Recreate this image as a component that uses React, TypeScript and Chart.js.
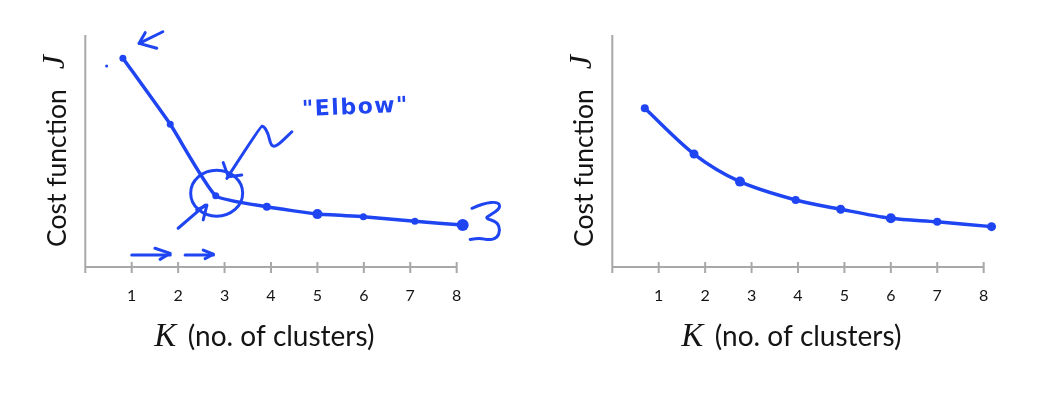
import React, { useEffect, useRef } from "react";
import { Chart, registerables } from "chart.js";

Chart.register(...registerables);

// ---- data ----
const kTicks = [0, 1, 2, 3, 4, 5, 6, 7, 8];
const tickLabels = ["", "1", "2", "3", "4", "5", "6", "7", "8"];

const leftK = [0.81, 1.83, 2.81, 3.91, 5.0, 5.99, 7.1, 8.13];
const leftJ = [9.0, 6.15, 3.07, 2.6, 2.28, 2.17, 1.97, 1.81];

const rightK = [0.7, 1.76, 2.75, 3.95, 4.92, 6.0, 7.0, 8.17];
const rightJ = [6.84, 4.87, 3.68, 2.89, 2.49, 2.1, 1.95, 1.74];

const xTitleSymbol = "K";
const xTitleText = "(no. of clusters)";
const yTitleText = "Cost function";
const yTitleSymbol = "J";
const elbowLabel = "\"Elbow\"";

// hand-drawn annotation strokes on the left chart, in (K, J) data units
const annoStrokes: number[][][] = [
  [[1.67, 10.14], [1.16, 9.64]],
  [[1.29, 10.1], [1.16, 9.64], [1.54, 9.43]],
  [[3.05, 3.82], [3.77, 6.05], [3.84, 6.08], [3.94, 5.76], [4.0, 5.22], [4.12, 5.19], [4.45, 5.83]],
  [[2.97, 4.5], [3.08, 3.89], [3.37, 3.97]],
  [[2.0, 1.67], [2.58, 2.67]],
  [[2.4, 2.46], [2.62, 2.67], [2.54, 2.03]],
  [[1.0, 0.52], [1.83, 0.52]],
  [[1.5, 0.81], [1.83, 0.59], [1.61, 0.33]],
  [[2.15, 0.52], [2.76, 0.52]],
  [[2.54, 0.73], [2.76, 0.55], [2.58, 0.36]],
  [[8.33, 2.53], [8.58, 2.75], [8.9, 2.81], [8.94, 2.53], [8.72, 2.24], [8.61, 2.1], [8.87, 1.95], [8.94, 1.59], [8.87, 1.24], [8.69, 1.16], [8.51, 1.24], [8.29, 1.19]],
];
const annoDot = [0.46, 8.66];
const elbowCircle = [2.83, 3.18, 0.56, 0.99]; // center K, center J, radius K, radius J
const elbowTextAt = [5.82, 6.85];

// ---- styles ----
const INK = "#1f45f2";
const AXIS = "#a8a8a8";
const TEXT = "#141414";
const SANS = "Lato";
const SERIF = "\"Liberation Serif\"";
const X_AXIS_END = 8;

const axisPlugin = {
  id: "axisPlugin",
  beforeDatasetsDraw(chart: any) {
    const { ctx, chartArea } = chart;
    const xs = chart.scales.x;
    ctx.save();
    ctx.strokeStyle = AXIS;
    ctx.lineWidth = 2;
    ctx.beginPath();
    ctx.moveTo(chartArea.left, chartArea.top);
    ctx.lineTo(chartArea.left, chartArea.bottom + 6);
    ctx.moveTo(chartArea.left, chartArea.bottom);
    ctx.lineTo(xs.getPixelForValue(X_AXIS_END), chartArea.bottom);
    for (const v of kTicks) {
      const px = xs.getPixelForValue(v);
      ctx.moveTo(px, chartArea.bottom - 5);
      ctx.lineTo(px, chartArea.bottom + 6);
    }
    ctx.stroke();
    ctx.restore();
  },
};

const titlePlugin = {
  id: "titlePlugin",
  afterDraw(chart: any) {
    const { ctx, chartArea } = chart;
    ctx.save();
    ctx.fillStyle = TEXT;
    ctx.textBaseline = "alphabetic";
    ctx.textAlign = "left";
    // x title
    const y = chartArea.bottom + 79;
    ctx.font = `italic 33px ${SERIF}`;
    ctx.fillText(xTitleSymbol, chartArea.left + 69, y);
    ctx.font = `28px ${SANS}`;
    ctx.fillText(xTitleText, chartArea.left + 102.5, y);
    // y title
    ctx.translate(chartArea.left - 19.5, chartArea.bottom - 20);
    ctx.rotate(-Math.PI / 2);
    ctx.font = `26.5px ${SANS}`;
    ctx.fillText(yTitleText, 0, 0);
    const w = ctx.measureText(yTitleText).width;
    ctx.font = `italic 32px ${SERIF}`;
    ctx.fillText(yTitleSymbol, w + 20, -2);
    ctx.restore();
  },
};

const annotationPlugin = {
  id: "annotationPlugin",
  afterDatasetsDraw(chart: any) {
    const { ctx } = chart;
    const xs = chart.scales.x;
    const ys = chart.scales.y;
    const P = (p: number[]) => [xs.getPixelForValue(p[0]), ys.getPixelForValue(p[1])];
    ctx.save();
    ctx.strokeStyle = INK;
    ctx.fillStyle = INK;
    ctx.lineWidth = 3;
    ctx.lineCap = "round";
    ctx.lineJoin = "round";
    for (const stroke of annoStrokes) {
      const pts = stroke.map(P);
      ctx.beginPath();
      ctx.moveTo(pts[0][0], pts[0][1]);
      if (pts.length <= 3) {
        for (let i = 1; i < pts.length; i++) ctx.lineTo(pts[i][0], pts[i][1]);
      } else {
        for (let i = 1; i < pts.length - 1; i++) {
          const mx = (pts[i][0] + pts[i + 1][0]) / 2;
          const my = (pts[i][1] + pts[i + 1][1]) / 2;
          ctx.quadraticCurveTo(pts[i][0], pts[i][1], mx, my);
        }
        const last = pts[pts.length - 1];
        ctx.lineTo(last[0], last[1]);
      }
      ctx.stroke();
    }
    // circle around elbow
    const [cx, cy] = P([elbowCircle[0], elbowCircle[1]]);
    const rx = Math.abs(xs.getPixelForValue(elbowCircle[0] + elbowCircle[2]) - cx);
    const ry = Math.abs(ys.getPixelForValue(elbowCircle[1] + elbowCircle[3]) - cy);
    ctx.beginPath();
    ctx.ellipse(cx, cy, rx, ry, 0, 0, Math.PI * 2);
    ctx.stroke();
    // dot
    const [dx, dy] = P(annoDot);
    ctx.beginPath();
    ctx.arc(dx, dy, 1.5, 0, Math.PI * 2);
    ctx.fill();
    // Elbow label
    const [tx, ty] = P(elbowTextAt);
    ctx.font = `bold 22px "DejaVu Sans"`;
    (ctx as any).letterSpacing = "1.5px";
    ctx.textAlign = "center";
    ctx.textBaseline = "middle";
    ctx.translate(tx, ty);
    ctx.rotate(-0.04);
    ctx.fillText(elbowLabel, 0, 0);
    ctx.restore();
  },
};

function makeConfig(ks: number[], js: number[], radii: number[], tension: number, withAnno: boolean): any {
  return {
    type: "line",
    data: {
      datasets: [
        {
          data: ks.map((k, i) => ({ x: k, y: js[i] })),
          borderColor: INK,
          backgroundColor: INK,
          borderWidth: 3.5,
          pointRadius: radii,
          pointBackgroundColor: INK,
          pointBorderWidth: 0,
          tension,
          fill: false,
          clip: false,
        },
      ],
    },
    options: {
      animation: false,
      responsive: false,
      layout: { padding: { left: 77.3, right: 37.4, top: 27, bottom: 84 } },
      plugins: { legend: { display: false }, tooltip: { enabled: false } },
      scales: {
        x: {
          type: "linear",
          min: 0,
          max: 8.3,
          afterBuildTicks: (scale: any) => {
            scale.ticks = kTicks.map((v) => ({ value: v }));
          },
          ticks: {
            callback: (v: number) => tickLabels[kTicks.indexOf(v)] ?? "",
            font: { family: SANS, size: 16 },
            color: TEXT,
            padding: 19,
            maxRotation: 0,
            autoSkip: false,
          },
          grid: { display: false, drawTicks: false },
          border: { display: false },
          afterFit: (s: any) => {
            s.height = 40;
          },
        },
        y: {
          type: "linear",
          min: 0,
          max: 10,
          ticks: { display: false },
          grid: { display: false, drawTicks: false },
          border: { display: false },
          afterFit: (s: any) => {
            s.width = 0;
          },
        },
      },
    },
    plugins: withAnno ? [axisPlugin, titlePlugin, annotationPlugin] : [axisPlugin, titlePlugin],
  };
}

function ChartCanvas(props: { ks: number[]; js: number[]; radii: number[]; tension: number; anno: boolean; left: number }) {
  const ref = useRef<HTMLCanvasElement | null>(null);
  useEffect(() => {
    if (!ref.current) return;
    const chart = new Chart(ref.current, makeConfig(props.ks, props.js, props.radii, props.tension, props.anno));
    return () => chart.destroy();
  }, []);
  return (
    <canvas
      ref={ref}
      width={500}
      height={383}
      style={{ position: "absolute", left: props.left, top: 0, width: 500, height: 383, display: "block" }}
    />
  );
}

export default function App() {
  return (
    <div style={{ position: "relative", width: 1031, height: 383, background: "#fff" }}>
      <ChartCanvas ks={leftK} js={leftJ} radii={[3.5, 3.5, 3.5, 4, 5, 3.5, 3.5, 6]} tension={0.15} anno={true} left={0} />
      <ChartCanvas ks={rightK} js={rightJ} radii={[4, 4.5, 5, 4, 4.5, 5, 4, 4.5]} tension={0.3} anno={false} left={527} />
    </div>
  );
}
